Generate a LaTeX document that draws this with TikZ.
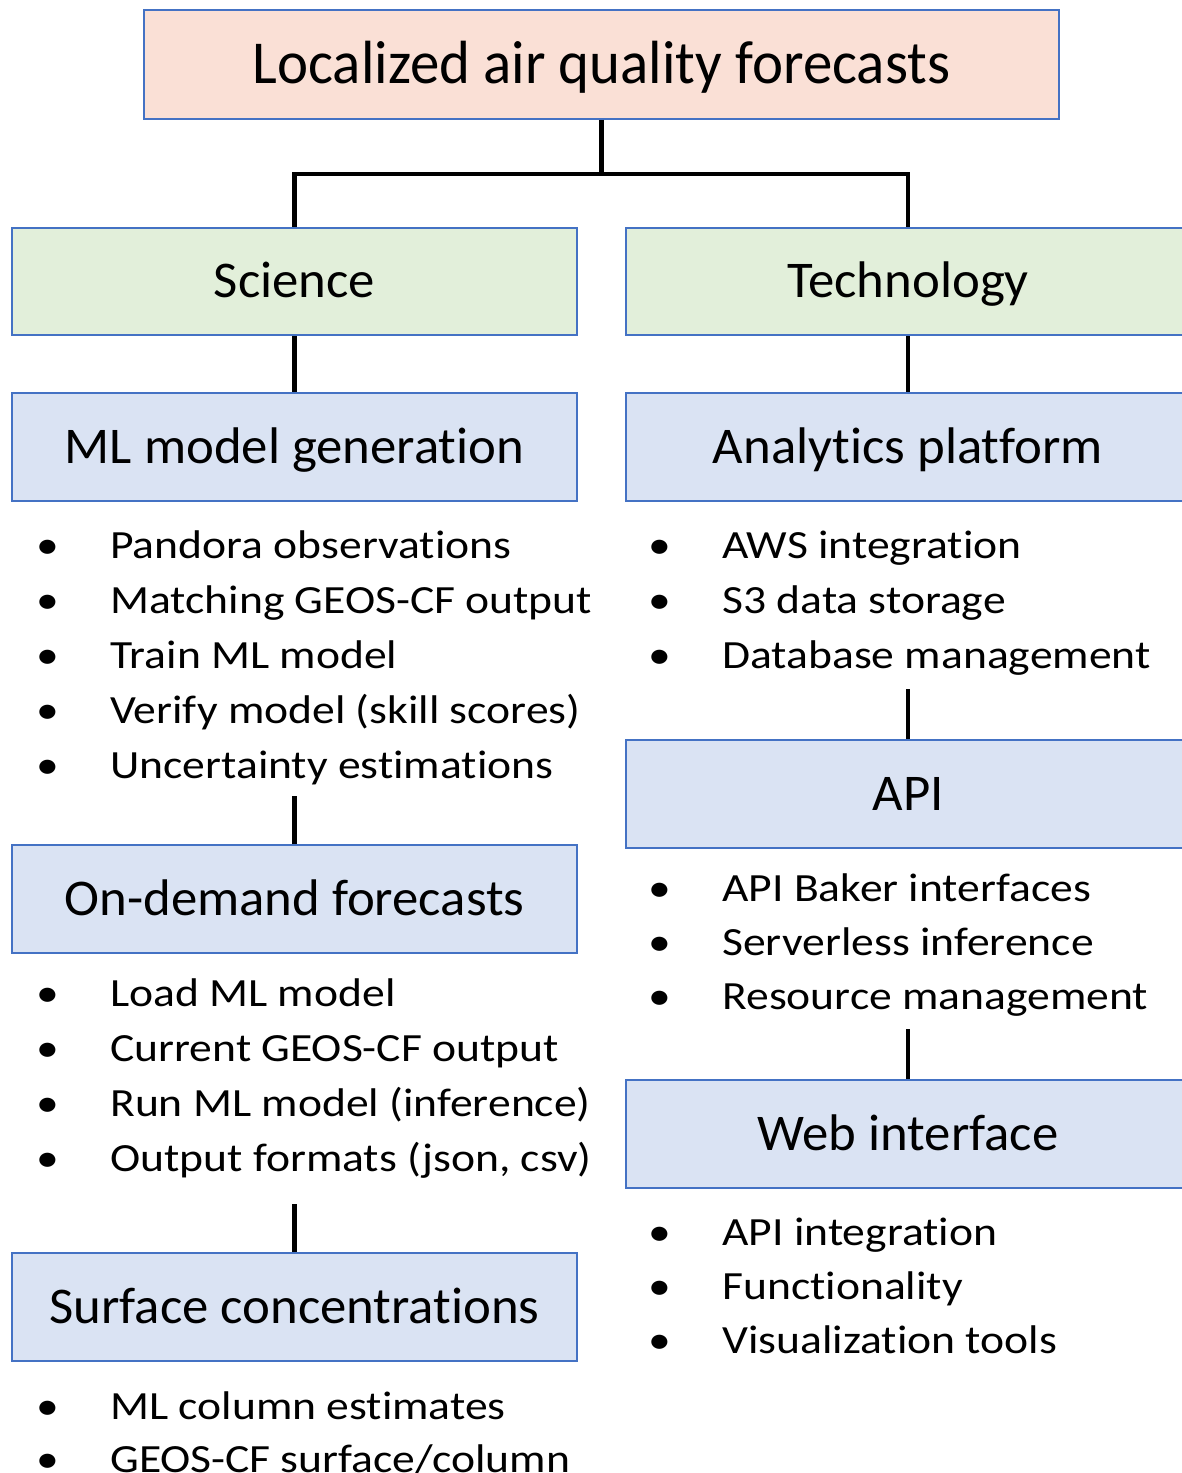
\documentclass[tikz,border=0pt]{standalone}
\usepackage{fontspec}
\setmainfont{Carlito}[Ligatures=NoCommon]
\newfontfamily\titlefont{Carlito}[Ligatures=NoCommon, FakeStretch=0.965]
\newfontfamily\boxfont{Carlito}[Ligatures=NoCommon, FakeStretch=1.025]
\newfontfamily\itemfont{Carlito}[Ligatures=NoCommon, FakeStretch=1.14]
\usetikzlibrary{positioning}
\definecolor{boxline}{RGB}{68,114,196}
\definecolor{topfill}{RGB}{250,224,214}
\definecolor{midfill}{RGB}{226,239,218}
\definecolor{subfill}{RGB}{218,227,243}
\newcommand{\itm}[1]{\makebox[1.48cm][l]{\textbullet}#1}

\begin{document}
\begin{tikzpicture}[x=0.02cm, y=-0.02cm,
    box/.style={draw=boxline, line width=0.04cm, minimum width=11.3cm,
      minimum height=2.16cm, inner sep=0pt, text height=0.65cm, text depth=0pt,
      font=\boxfont\fontsize{1.03cm}{1.2cm}\selectfont},
    topbox/.style={box, fill=topfill, minimum width=18.3cm, minimum height=2.18cm,
      text height=0.77cm, font=\titlefont\fontsize{1.22cm}{1.5cm}\selectfont},
    branch/.style={box, fill=midfill},
    task/.style={box, fill=subfill},
    item/.style={anchor=base west, inner sep=0pt,
      font=\itemfont\fontsize{0.8cm}{1.1cm}\selectfont},
    link/.style={line width=0.09cm}
    ]
\clip (0,0) rectangle (1182,1473);
% top level
\node[topbox] (aq)   at (601.5,64.5) {Localized air quality forecasts};
\node[branch] (sci)  at (294.5,281.5) {Science};
\node[branch] (tech) at (908,281.5)   {Technology};
% science column
\node[task] (mlgen) at (294.5,447) {ML model generation};
\node[task] (odf)   at (294.5,899) {On-demand forecasts};
\node[task] (surf)  at (294.5,1307) {Surface concentrations};
% technology column
\node[task] (ana) at (908,447)  {Analytics platform};
\node[task] (api) at (908,794)  {API};
\node[task] (web) at (908,1134) {Web interface};

% bullet lists
\foreach \t [count=\i from 0] in {Pandora observations, Matching GEOS-CF output,
    Train ML model, {Verify model (skill scores)}, Uncertainty estimations}
  \node[item] (mlgen\i) at (36,558+55*\i) {\itm{\t}};
\foreach \t [count=\i from 0] in {Load ML model, Current GEOS-CF output,
    {Run ML model (inference)}, {Output formats (json, csv)}}
  \node[item] (odf\i) at (36,1006+55*\i) {\itm{\t}};
\foreach \t [count=\i from 0] in {ML column estimates, GEOS-CF surface/column}
  \node[item] (surf\i) at (36,1419+53*\i) {\itm{\t}};
\foreach \t [count=\i from 0] in {AWS integration, S3 data storage, Database management}
  \node[item] (ana\i) at (648,558+55*\i) {\itm{\t}};
\foreach \t [count=\i from 0] in {API Baker interfaces, Serverless inference, Resource management}
  \node[item] (api\i) at (648,901+54*\i) {\itm{\t}};
\foreach \t [count=\i from 0] in {API integration, Functionality, Visualization tools}
  \node[item] (web\i) at (648,1245+54*\i) {\itm{\t}};

% connectors
\draw[link] (aq.south) -- ++(0,54) coordinate (fork) -| (sci.north);
\draw[link] (fork) -| (tech.north);
\draw[link] (sci.south) -- (mlgen.north);
\draw[link] (tech.south) -- (ana.north);
\draw[link] (odf.north) -- ++(0,-48);
\draw[link] (surf.north) -- ++(0,-48);
\draw[link] (api.north) -- ++(0,-50);
\draw[link] (web.north) -- ++(0,-50);
\end{tikzpicture}
\end{document}
